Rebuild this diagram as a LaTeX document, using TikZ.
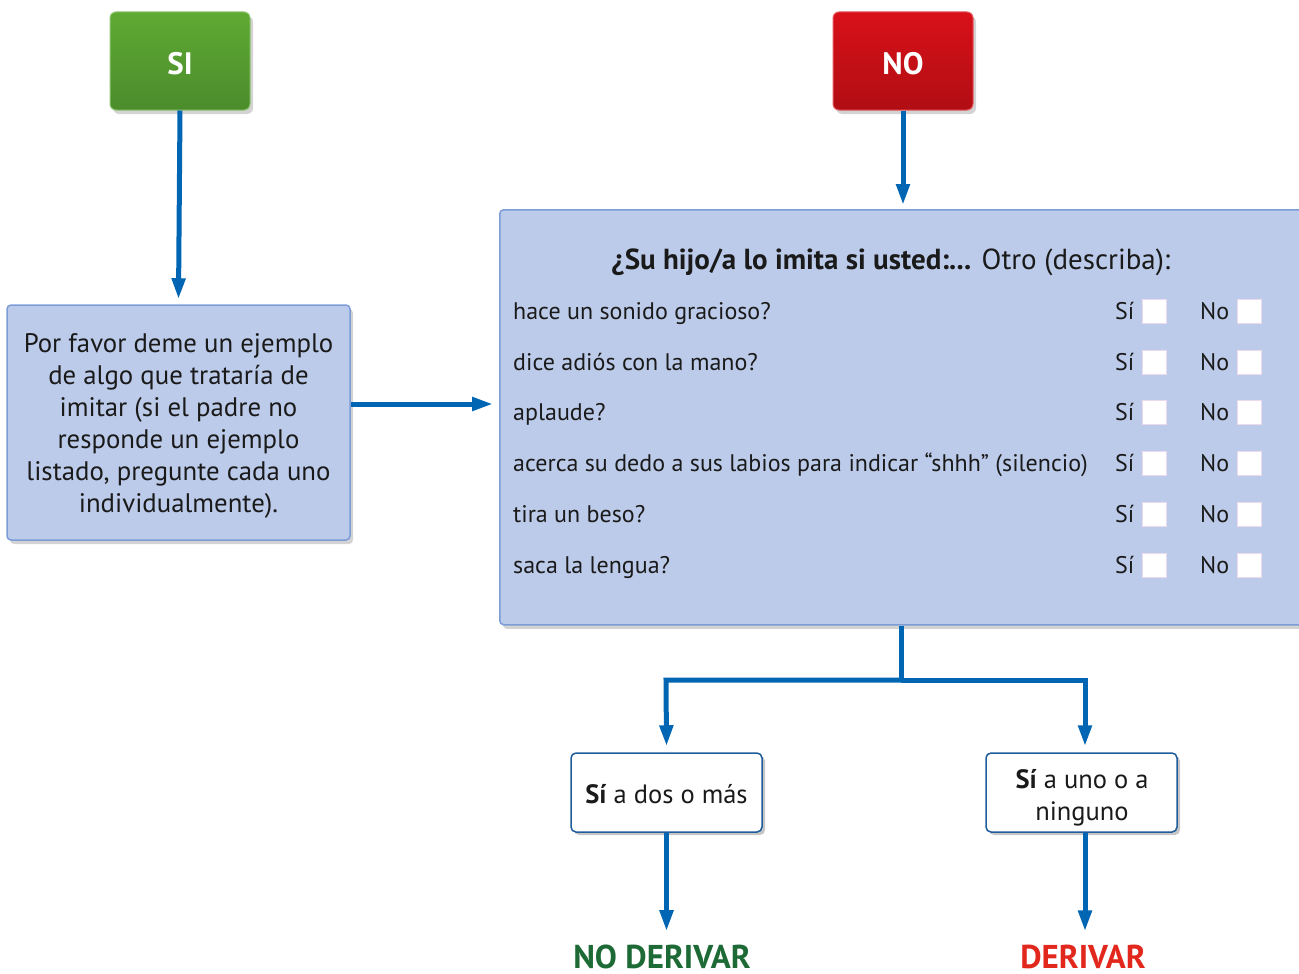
\documentclass[tikz,border=0pt]{standalone}
\usepackage{fontspec}
\setmainfont{PT Sans}
\usetikzlibrary{arrows.meta,shadows,positioning}
\definecolor{arrowblue}{HTML}{0065B2}
\definecolor{boxfill}{HTML}{BCCBE9}
\definecolor{boxline}{HTML}{7C9CD8}
\definecolor{sigreen1}{HTML}{5FAA33}
\definecolor{sigreen2}{HTML}{4B8C2C}
\definecolor{nored1}{HTML}{D91019}
\definecolor{nored2}{HTML}{B00E13}
\definecolor{txt}{HTML}{1A1A1A}
\definecolor{darkgreen}{HTML}{1E6A36}
\definecolor{derred}{HTML}{E2271D}
\definecolor{smallline}{HTML}{1F5C9C}
\tikzset{
  conn/.style={draw=arrowblue, line width=5pt, -{Triangle[length=21pt,width=13pt]}},
  connplain/.style={draw=arrowblue, line width=5pt},
  topbox/.style={rounded corners=6pt, minimum width=140pt, minimum height=98pt,
     text=white, font=\fontsize{31}{34}\selectfont\bfseries, text height=28pt,
     drop shadow={shadow xshift=3pt, shadow yshift=-4pt, opacity=0.35}},
  bluebox/.style={draw=boxline, line width=1.5pt, fill=boxfill, rounded corners=4pt,
     drop shadow={shadow xshift=3pt, shadow yshift=-4pt, opacity=0.35}},
  smallbox/.style={draw=smallline, line width=1.5pt, fill=white, rounded corners=5pt,
     minimum width=191pt, minimum height=79pt,
     drop shadow={shadow xshift=3pt, shadow yshift=-3pt, opacity=0.45}},
  smalltext/.style={text=txt, align=center, font=\fontsize{26.5}{32}\selectfont, inner sep=0pt},
  rowtext/.style={anchor=base west, text=txt, font=\fontsize{24}{28}\selectfont, inner sep=0pt},
  chk/.style={fill=white, draw=white!85!violet, line width=0.8pt, minimum width=24pt, minimum height=24pt, inner sep=0pt},
  outcome/.style={font=\fontsize{33}{36}\selectfont\bfseries, inner sep=0pt, anchor=base},
}
\begin{document}
\begin{tikzpicture}[x=1pt,y=-1pt]
\useasboundingbox (0,0) rectangle (1299,974);
\clip (0,0) rectangle (1299,974);

% top boxes
\node[topbox, top color=sigreen1, bottom color=sigreen2, draw=sigreen1!70!white, line width=1pt] (si) at (180,61) {SI};
\node[topbox, top color=nored1, bottom color=nored2, draw=nored1!70!white, line width=1pt] (no) at (903,61) {NO};

% left box
\node[bluebox, minimum width=343pt, minimum height=235pt] (left) at (178.5,422.5) {};
\node[align=center, text=txt, font=\fontsize{26.8}{32}\selectfont, inner sep=0pt] (lefttext) at (178.5,426)
  {Por favor deme un ejemplo\\de algo que trataría de\\imitar (si el padre no\\responde un ejemplo\\listado, pregunte cada uno\\individualmente).};

% main box
\node[bluebox, minimum width=820pt, minimum height=415pt, anchor=north west] (main) at (499,209) {};

\node[text=txt, font=\fontsize{29}{32}\selectfont, inner sep=0pt, anchor=base] (title) at (891,269)
  {\textbf{¿Su hijo/a lo imita si usted:...} Otro (describa):};

% rows
\foreach \i/\y/\t in {1/311/{hace un sonido gracioso?},
                      2/362/{dice adiós con la mano?},
                      3/412/{aplaude?},
                      4/463/{acerca su dedo a sus labios para indicar “shhh” (silencio)},
                      5/514/{tira un beso?},
                      6/565/{saca la lengua?}}{
  \node[rowtext] (q\i) at (513,\y+8.5) {\t};
  \node[rowtext] (si\i) at (1115,\y+8.5) {Sí};
  \node[chk] (cs\i) at (1154,\y) {};
  \node[rowtext] (no\i) at (1200,\y+8.5) {No};
  \node[chk] (cn\i) at (1249,\y) {};
}

% outcome boxes
\node[smallbox] (a) at (666.5,792.5) {};
\node[smalltext] (atext) at (666.5,794) {\textbf{Sí} a dos o más};
\node[smallbox] (b) at (1081.5,792.5) {};
\node[smalltext, anchor=base] (btext) at (1082,820) {\textbf{Sí} a uno o a\\ninguno};

\node[outcome, text=darkgreen] (nder) at (662,968) {NO DERIVAR};
\node[outcome, text=derred] (der) at (1083,968) {DERIVAR};

% connectors
\draw[conn] (si.south) -- ([yshift=5pt]left.north);
\draw[conn] (no.south) -- ([yshift=4pt]main.north -| no.south);
\draw[conn] ([yshift=18.5pt]left.east) -- ([yshift=18.5pt,xshift=-6pt]left.east -| main.west);

\coordinate (split) at (901,680);
\draw[connplain] (main.south -| split) -- (split);
\draw[conn] (split) -- (666,680) -- ([yshift=6pt]a.north);
\draw[conn] (split) -- (1085,680) -- ([yshift=6pt]b.north -| 1085,0);
\draw[conn] (a.south) -- ([yshift=13pt]nder.north -| a.south);
\draw[conn] (b.south -| 1085,0) -- ([yshift=13pt]der.north -| 1085,0);
\end{tikzpicture}
\end{document}
